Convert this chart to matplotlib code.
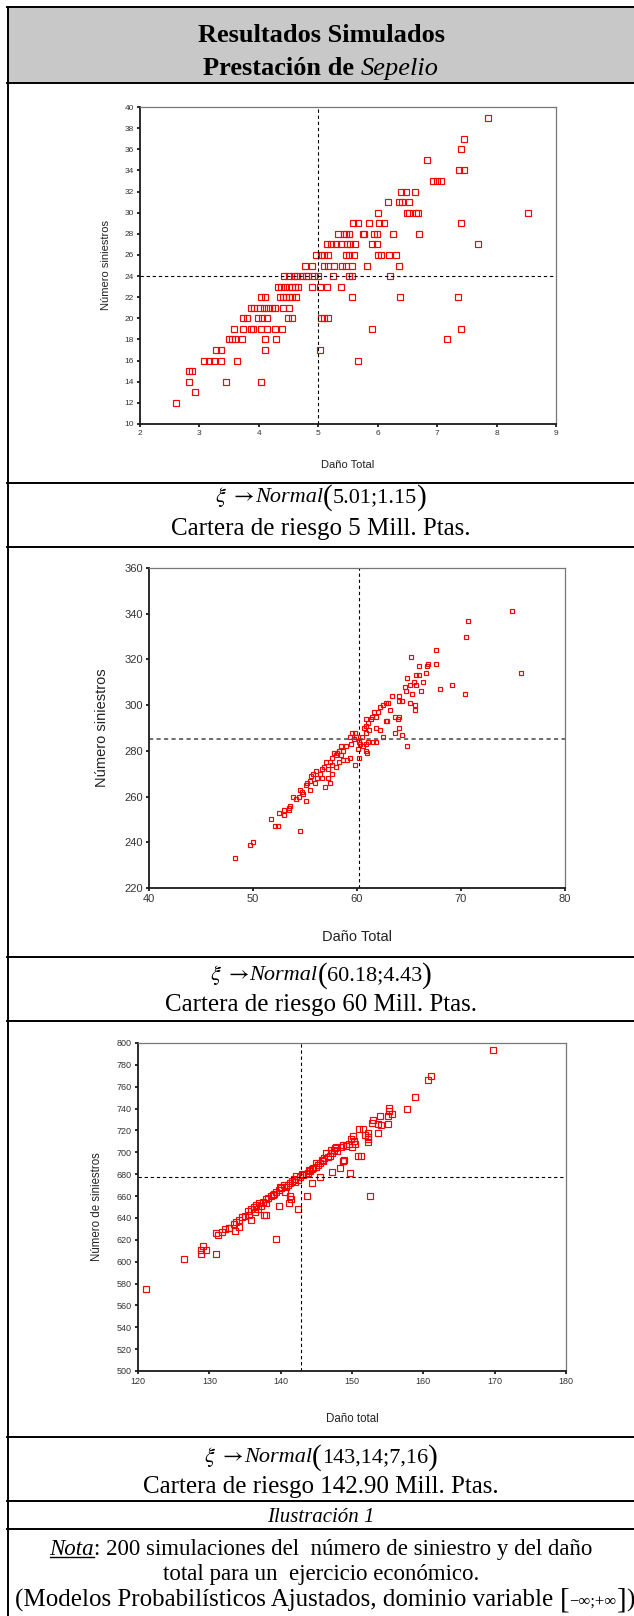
import matplotlib

matplotlib.use("Agg")
import matplotlib.pyplot as plt
from matplotlib.lines import Line2D
from matplotlib.patches import Rectangle

W, H = 634, 1616
SERIF = ["Liberation Serif", "DejaVu Serif"]
SANS = ["Liberation Sans", "DejaVu Sans"]
RED = "#ff0000"

# --- chart 1: cartera 5 Mill. (numero de siniestros is discrete, one list of x per level)
num_5 = [39, 37, 36, 35, 34, 33, 32, 31, 30, 29, 28, 27, 26, 25, 24, 23, 22, 21, 20, 19, 18, 17, 16, 15, 14, 13, 12]
dano_5 = [
    [7.86], [7.45], [7.40], [6.83], [7.37, 7.46], [6.93, 7.00, 7.06],
    [6.40, 6.48, 6.62], [6.18, 6.35, 6.41, 6.53],
    [6.01, 6.50, 6.53, 6.64, 6.67, 8.53],
    [5.59, 5.66, 5.85, 6.03, 6.10, 7.40],
    [5.34, 5.43, 5.47, 5.51, 5.75, 5.77, 5.94, 5.99, 6.25, 6.70],
    [5.15, 5.22, 5.30, 5.38, 5.49, 5.54, 5.62, 5.90, 5.98, 7.68],
    [4.96, 5.05, 5.09, 5.17, 5.47, 5.51, 5.60, 6.01, 6.06, 6.19, 6.30],
    [4.77, 4.90, 5.09, 5.17, 5.26, 5.40, 5.47, 5.56, 5.82, 6.36],
    [4.43, 4.50, 4.59, 4.65, 4.72, 4.79, 4.83, 4.92, 5.00, 5.25, 5.51, 5.57, 6.21],
    [4.32, 4.38, 4.44, 4.50, 4.55, 4.60, 4.66, 4.89, 5.03, 5.15, 5.38],
    [4.04, 4.11, 4.35, 4.40, 4.46, 4.51, 4.56, 4.62, 5.56, 6.38, 7.35],
    [3.87, 3.92, 4.02, 4.09, 4.15, 4.22, 4.28, 4.40, 4.51],
    [3.73, 3.80, 3.99, 4.06, 4.14, 4.49, 4.55, 5.05, 5.09, 5.16],
    [3.58, 3.73, 3.87, 3.90, 4.04, 4.13, 4.28, 4.39, 5.90, 7.40],
    [3.50, 3.54, 3.60, 3.71, 4.11, 4.29, 7.16],
    [3.28, 3.36, 4.10, 5.03],
    [3.07, 3.16, 3.24, 3.37, 3.63, 5.66],
    [2.82, 2.88], [2.82, 3.45, 4.04], [2.93], [2.60],
]
media_5 = (5.0, 24)

# --- chart 2: cartera 60 Mill.
dano_60 = [
    74.9, 70.7, 70.5, 67.6, 65.2, 67.6, 66.0, 66.7, 66.8, 66.0, 66.6, 66.3, 64.8, 65.7, 65.5,
    65.7, 64.6, 65.1, 75.8, 68.0, 69.1, 70.4, 65.3, 66.2, 64.7, 64.0, 63.4, 64.0, 64.3, 65.1,
    65.6, 65.6, 63.0, 63.2, 62.5, 62.8, 62.2, 62.0, 61.6, 61.8, 61.4, 61.3, 60.9, 61.1, 60.9,
    60.7, 61.2, 60.9, 61.8, 62.2, 62.8, 63.7, 64.0, 63.9, 64.0, 63.7, 64.3, 62.5, 62.9,
    59.3, 59.5, 59.8, 59.7, 59.9, 60.2, 60.3, 60.5, 60.1, 60.6, 60.9, 61.1, 61.5, 61.8, 64.8,
    60.2, 59.8, 61.0, 60.9, 59.4,
    58.5, 58.9, 58.7, 58.3, 58.1, 57.8, 58.0, 57.6, 58.5, 59.0, 59.3, 58.7, 58.3, 57.4, 57.6,
    58.0, 57.0, 56.8, 56.6, 57.2, 57.6, 57.2, 56.4, 56.1, 55.8, 56.2, 56.6, 55.6, 55.5, 55.2,
    55.1, 56.0, 57.4, 56.9, 55.5, 54.5, 54.7, 54.8, 54.4, 53.8, 54.1, 55.1, 53.6, 53.5, 53.5,
    53.0, 53.0, 52.5, 51.7, 52.1, 52.4, 54.5, 50.0, 49.7, 48.3,
]
num_60 = [
    341, 337, 330, 324, 321, 318, 317, 317, 318, 313, 314, 310, 312, 313, 310,
    309, 308, 309, 314, 307, 309, 305, 305, 306, 306, 304, 304, 302, 302, 301,
    300, 298, 301, 298, 300, 301, 299, 297, 297, 295, 295, 294, 294, 292, 291,
    290, 289, 288, 290, 289, 293, 295, 295, 294, 290, 288, 287, 286, 293,
    286, 288, 288, 285, 286, 284, 283, 286, 281, 282, 283, 284, 284, 284, 282,
    277, 274, 279, 280, 283,
    282, 282, 280, 280, 279, 279, 278, 277, 278, 276, 277, 276, 275, 275, 274,
    273, 275, 273, 272, 272, 270, 268, 270, 271, 270, 268, 268, 269, 267, 266,
    265, 266, 266, 264, 263, 263, 262, 261, 260, 260, 259, 258, 256, 255, 254,
    254, 252, 253, 250, 247, 247, 245, 240, 239, 233,
]
media_60 = (60.18, 285)

# --- chart 3: cartera 142.90 Mill.
dano_143 = [
    169.8, 161.1, 160.7, 158.9, 157.7, 155.2, 155.2, 155.6, 155.1, 153.9, 153.0, 152.8, 153.7,
    155.1, 153.7, 152.3, 151.6, 151.0, 152.3, 152.2, 151.8, 150.1, 149.8, 149.6, 150.4, 150.0,
    148.8, 148.4, 147.8, 147.5, 147.2, 147.0, 146.4, 146.7, 146.1, 145.8, 145.5, 145.3, 144.9,
    144.4, 144.1, 143.8, 143.6, 143.2, 142.7, 142.4, 142.0, 141.6, 141.3, 141.0, 140.4, 140.1,
    139.7, 139.4, 139.1, 138.6, 138.2, 137.9, 137.5, 137.0, 136.6, 136.2, 135.8, 135.4, 135.6,
    135.0, 134.6, 134.2, 133.8, 133.5, 132.8, 132.2, 131.8, 131.2, 131.0, 129.1, 128.9, 129.5,
    128.8, 130.9, 126.4, 121.1,
    139.3, 139.7, 141.1, 142.4, 143.7, 144.4, 145.5, 141.3, 141.5, 149.7, 152.5, 150.9, 151.2,
    148.8, 148.3, 147.2, 137.6, 137.9, 135.9, 134.2, 132.7, 133.6, 154.1, 152.3, 148.9, 148.7,
    140.8, 141.9, 143.0, 144.6, 145.0, 146.9, 147.6, 147.9, 149.2, 150.3, 137.3, 136.4, 138.9,
    139.9, 142.2, 146.0, 144.0, 140.6, 138.0, 136.8,
]
num_143 = [
    794, 770, 766, 751, 740, 741, 738, 735, 733, 733, 730, 727, 726,
    726, 718, 718, 721, 721, 714, 709, 716, 715, 712, 708, 708, 705,
    707, 705, 705, 702, 699, 702, 699, 696, 695, 693, 690, 688, 687,
    685, 683, 681, 680, 679, 677, 675, 673, 674, 672, 670, 670, 667,
    666, 664, 662, 660, 658, 657, 655, 654, 652, 650, 648, 646, 643,
    642, 641, 638, 636, 634, 631, 630, 627, 624, 626, 614, 611, 611,
    607, 607, 602, 575,
    621, 651, 654, 648, 660, 672, 677, 660, 657, 681, 660, 697, 697,
    692, 686, 682, 643, 643, 638, 632, 631, 628, 725, 712, 693, 692,
    668, 676, 680, 686, 690, 697, 704, 701, 706, 710, 651, 645, 661,
    668, 678, 692, 684, 664, 654, 648,
]
media_143 = (142.9, 677)

# caption texts
parametros = ["5.01;1.15", "60.18;4.43", "143,14;7,16"]
carteras = ["Cartera de riesgo 5 Mill. Ptas.", "Cartera de riesgo 60 Mill. Ptas.",
            "Cartera de riesgo 142.90 Mill. Ptas."]

plt.rcParams["font.family"] = SANS
plt.rcParams["mathtext.fontset"] = "stix"


def px_axes(fig, x0, y0, x1, y1):
    return fig.add_axes([x0 / W, 1 - y1 / H, (x1 - x0) / W, (y1 - y0) / H])


def scatter_panel(fig, box, xs, ys, media, xlim, xticks, ylim, yticks,
                  xlabel, ylabel, tick_fs, label_fs, ms, xlab_y, ylab_x, hdash_grey=False):
    x0, y0, x1, y1 = box
    ax = px_axes(fig, x0, y0, x1, y1)
    ax.plot(xs, ys, ls="none", marker="s", ms=ms, mfc="none", mec=RED, mew=0.85)
    ax.axvline(media[0], color="black", lw=0.8, ls=(0, (3, 2.5)))
    if hdash_grey:
        ax.axhline(media[1], color="#555555", lw=1.2, ls=(0, (2.5, 2)))
    else:
        ax.axhline(media[1], color="black", lw=0.8, ls=(0, (3, 2.5)))
    ax.set_xlim(*xlim)
    ax.set_ylim(*ylim)
    ax.set_xticks(xticks)
    ax.set_yticks(yticks)
    for side in ("left", "bottom"):
        ax.spines[side].set_color("#1a1a1a")
        ax.spines[side].set_linewidth(1.3)
    for side in ("top", "right"):
        ax.spines[side].set_color("#777777")
        ax.spines[side].set_linewidth(0.9)
    ax.tick_params(direction="out", length=2.5, width=1.3, color="#1a1a1a",
                   labelsize=tick_fs, labelcolor="#333333", pad=2)
    ax.text(0.5, (y1 - xlab_y) / (y1 - y0), xlabel, transform=ax.transAxes,
            ha="center", va="center", fontsize=label_fs, color="#222222")
    ax.text((ylab_x - x0) / (x1 - x0), 0.5, ylabel, transform=ax.transAxes, rotation=90,
            ha="center", va="center", fontsize=label_fs, color="#222222")
    return ax


def runs(fig, xc, yc, parts, base=None):
    """Draw text pieces side by side, centred on xc; yc is the visual centre in px.
    parts: (text, size, style, weight[, dy_px])"""
    r = fig.canvas.get_renderer()
    if base is None:
        base = max(p[1] for p in parts)
    y_base = yc + 0.33 * base * 100 / 72
    texts = []
    for p in parts:
        s, size, style, weight = p[:4]
        dy = p[4] if len(p) > 4 else 0
        t = fig.text(0, 1 - (y_base + dy) / H, s, fontsize=size, family=SERIF, style=style,
                     weight=weight, ha="left", va="baseline")
        texts.append(t)
    widths = [t.get_window_extent(r).width for t in texts]
    x = xc - sum(widths) / 2
    lefts = []
    for t, w in zip(texts, widths):
        t.set_x(x / W)
        lefts.append((x, w))
        x += w
    return texts, lefts, y_base


fig = plt.figure(figsize=(W / 100, H / 100), dpi=100, facecolor="white")

# table frame
XC = 321
fig.add_artist(Rectangle((7 / W, 1 - 83 / H), (W - 7) / W, 76 / H, facecolor="#c8c8c8",
                         edgecolor="none", transform=fig.transFigure))
for yl in [7, 83, 483, 547, 957, 1021, 1437, 1501, 1529]:
    fig.add_artist(Line2D([7 / W, 1], [1 - yl / H] * 2, color="black", lw=1.4,
                          transform=fig.transFigure))
fig.add_artist(Line2D([7.5 / W] * 2, [1 - 6.5 / H, 0], color="black", lw=1.4,
                      transform=fig.transFigure))

runs(fig, XC, 33, [("Resultados Simulados", 19, "normal", "bold")])
runs(fig, XC, 66, [("Prestación de ", 19, "normal", "bold"), ("Sepelio", 19, "italic", "normal")])

xs1, ys1 = [], []
for n, row in zip(num_5, dano_5):
    xs1 += row
    ys1 += [n] * len(row)
scatter_panel(fig, (140, 107, 556, 424), xs1, ys1, media_5, (2, 9), range(2, 10),
              (10, 40), range(10, 41, 2), "Daño Total", "Número siniestros",
              6, 8, 4.3, 465, 106)
scatter_panel(fig, (149, 568, 565, 888), dano_60, num_60, media_60, (40, 80), range(40, 81, 10),
              (220, 360), range(220, 361, 20), "Daño Total", "Número siniestros",
              8, 10.5, 3.0, 937, 102, hdash_grey=True)
scatter_panel(fig, (138, 1043, 566, 1371), dano_143, num_143, media_143, (120, 180),
              range(120, 181, 10), (500, 800), range(500, 801, 20), "Daño total",
              "Número de siniestros", 6.5, 8.3, 4.2, 1419, 97)

for param, cartera, (yf, yt) in zip(parametros, carteras, [(495, 527), (973, 1003), (1455, 1485)]):
    runs(fig, XC, yf, [(r"$\xi\ \rightarrow$", 16, "normal", "normal"),
                       ("Normal", 16, "italic", "normal"),
                       ("(", 21, "normal", "normal", 2),
                       (param, 16, "normal", "normal"),
                       (")", 21, "normal", "normal", 2)], base=16)
    runs(fig, XC, yt, [(cartera, 18, "normal", "normal")])

runs(fig, XC, 1515, [("Ilustración 1", 15, "italic", "normal")])
texts, lefts, yb = runs(fig, XC, 1547, [("Nota", 16.5, "italic", "normal"),
                                        (": 200 simulaciones del  número de siniestro y del daño", 16.5, "normal", "normal")])
x_n, w_n = lefts[0]
fig.add_artist(Line2D([x_n / W, (x_n + w_n) / W], [1 - (yb + 2.5) / H] * 2, color="black", lw=1.0,
                      transform=fig.transFigure))
runs(fig, XC, 1572, [("total para un  ejercicio económico.", 16.5, "normal", "normal")])
runs(fig, XC + 4, 1598, [("(Modelos Probabilísticos Ajustados, dominio variable ", 18, "normal", "normal"),
                         ("[", 21, "normal", "normal", 1), ("−∞;+∞", 12, "normal", "normal"),
                         ("]", 21, "normal", "normal", 1), (")", 18, "normal", "normal")], base=18)

fig.savefig("out.png", dpi=100, facecolor="white")
